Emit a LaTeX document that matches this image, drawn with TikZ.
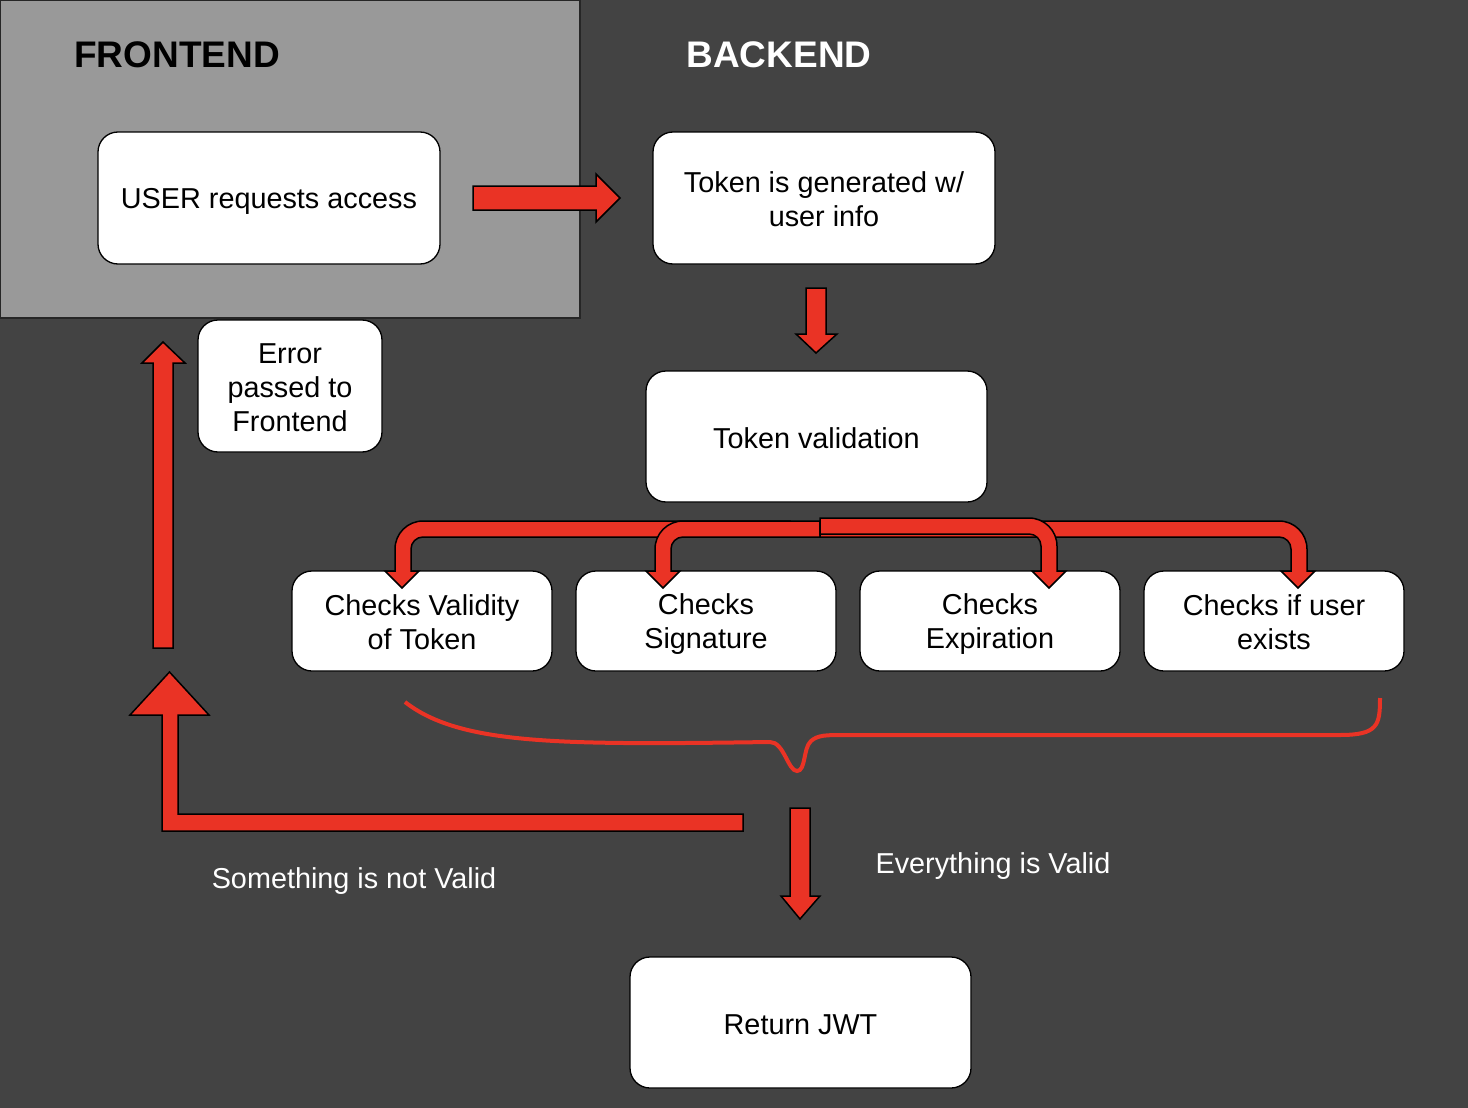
\documentclass[tikz,border=0pt]{standalone}
\usepackage{fontspec}
\setmainfont{Liberation Sans}
\definecolor{bgdark}{RGB}{67,67,67}
\definecolor{panelgray}{RGB}{153,153,153}
\definecolor{arrowred}{RGB}{234,51,37}
\newcommand\mystr{\rule[-4pt]{0pt}{31.5pt}}
\begin{document}
\begin{tikzpicture}[x=1pt,y=-1pt,
  box/.style={draw=black, line width=1.3pt, fill=white, rounded corners=20pt, align=center,
    font=\fontsize{28.8}{34}\selectfont, inner sep=0pt},
  blk/.style={fill=arrowred, draw=black, line width=1.5pt, line join=miter},
  bracestyle/.style={draw=arrowred, line width=4pt},
  title/.style={font=\bfseries\fontsize{37}{44}\selectfont, anchor=base},
  lbl/.style={text=white, font=\fontsize{28.8}{34}\selectfont, inner sep=0pt}]
\fill[bgdark] (0,0) rectangle (1468,1108);
\useasboundingbox (0,0) rectangle (1468,1108);
% frontend panel
\draw[fill=panelgray, draw=black!85, line width=1.5pt] (0,0) rectangle (580,318);
\node[title, anchor=base west, inner sep=0pt] (fe) at (74,67) {FRONTEND};
\node[title, text=white] (be) at (779,67) {BACKEND};
% boxes
\node[box, minimum width=342pt, minimum height=132pt] (user) at (269,198) {\mystr USER requests access};
\node[box, minimum width=342pt, minimum height=132pt] (gen) at (824,198) {\mystr Token is generated w/\\\mystr user info};
\node[box, minimum width=184pt, minimum height=132pt] (err) at (290,386) {\mystr Error\\\mystr passed to\\\mystr Frontend};
\node[box, minimum width=341pt, minimum height=131pt] (val) at (816.5,436.5) {\mystr Token validation};
\node[box, minimum width=260pt, minimum height=100pt] (c1) at (422,621) {\mystr Checks Validity\\\mystr of Token};
\node[box, minimum width=260pt, minimum height=100pt] (c2) at (706,621) {\mystr Checks\\\mystr Signature};
\node[box, minimum width=260pt, minimum height=100pt] (c3) at (990,621) {\mystr Checks\\\mystr Expiration};
\node[box, minimum width=260pt, minimum height=100pt] (c4) at (1274,621) {\mystr Checks if user\\\mystr exists};
\node[box, minimum width=341pt, minimum height=131pt] (jwt) at (800.5,1022.5) {\mystr Return JWT};
% labels
\node[lbl] (bad) at (354,878) {\mystr Something is not Valid};
\node[lbl] (good) at (993,863) {\mystr Everything is Valid};
% block arrows
\draw[blk] (473,186) -- (596,186) -- (596,174) -- (620,198) -- (596,222) -- (596,210) -- (473,210) -- cycle;
\draw[blk] (806,288) -- (826,288) -- (826,334) -- (837,334) -- (816,353) -- (796,334) -- (806,334) -- cycle;
\draw[blk] (153,648) -- (153,363) -- (142,363) -- (163,342) -- (185,363) -- (173,363) -- (173,648) -- cycle;
\draw[blk] (743,814) -- (178,814) -- (178,715) -- (209,715) -- (169.5,672) -- (130,715) -- (162,715) -- (162,831) -- (743,831) -- cycle;
\draw[blk] (790,808) -- (810,808) -- (810,896) -- (820,896) -- (800,919) -- (781,896) -- (790,896) -- cycle;
% branching arrows
\draw[blk] (790,521) -- (423,521) arc[start angle=270, end angle=180, radius=28] -- (395,571) -- (385,571) -- (402,588) -- (419,571) -- (411,571) -- (411,549) arc[start angle=180, end angle=270, radius=12] -- (790,537) -- cycle;
\draw[blk] (820,521) -- (683,521) arc[start angle=270, end angle=180, radius=28] -- (655,571) -- (646,571) -- (663,588) -- (680,571) -- (671,571) -- (671,549) arc[start angle=180, end angle=270, radius=12] -- (820,537) -- cycle;
\draw[blk] (820,521) -- (1279,521) arc[start angle=270, end angle=360, radius=28] -- (1307,571) -- (1315,571) -- (1298,588) -- (1281,571) -- (1291,571) -- (1291,549) arc[start angle=0, end angle=-90, radius=12] -- (820,537) -- cycle;
\draw[blk] (820,518) -- (1029,518) arc[start angle=270, end angle=360, radius=28] -- (1057,571) -- (1066,571) -- (1049,588) -- (1032,571) -- (1041,571) -- (1041,546) arc[start angle=0, end angle=-90, radius=12] -- (820,534) -- cycle;
% brace
\draw[bracestyle] (405,702) .. controls (460,745) and (560,745) .. (770,742)
  .. controls (784,742) and (788,771) .. (797,771)
  .. controls (806,771) and (803,748) .. (811,741)
  .. controls (818,735) and (826,735) .. (845,735)
  -- (1340,735) .. controls (1378,735) and (1380,725) .. (1380,698);
\end{tikzpicture}
\end{document}
